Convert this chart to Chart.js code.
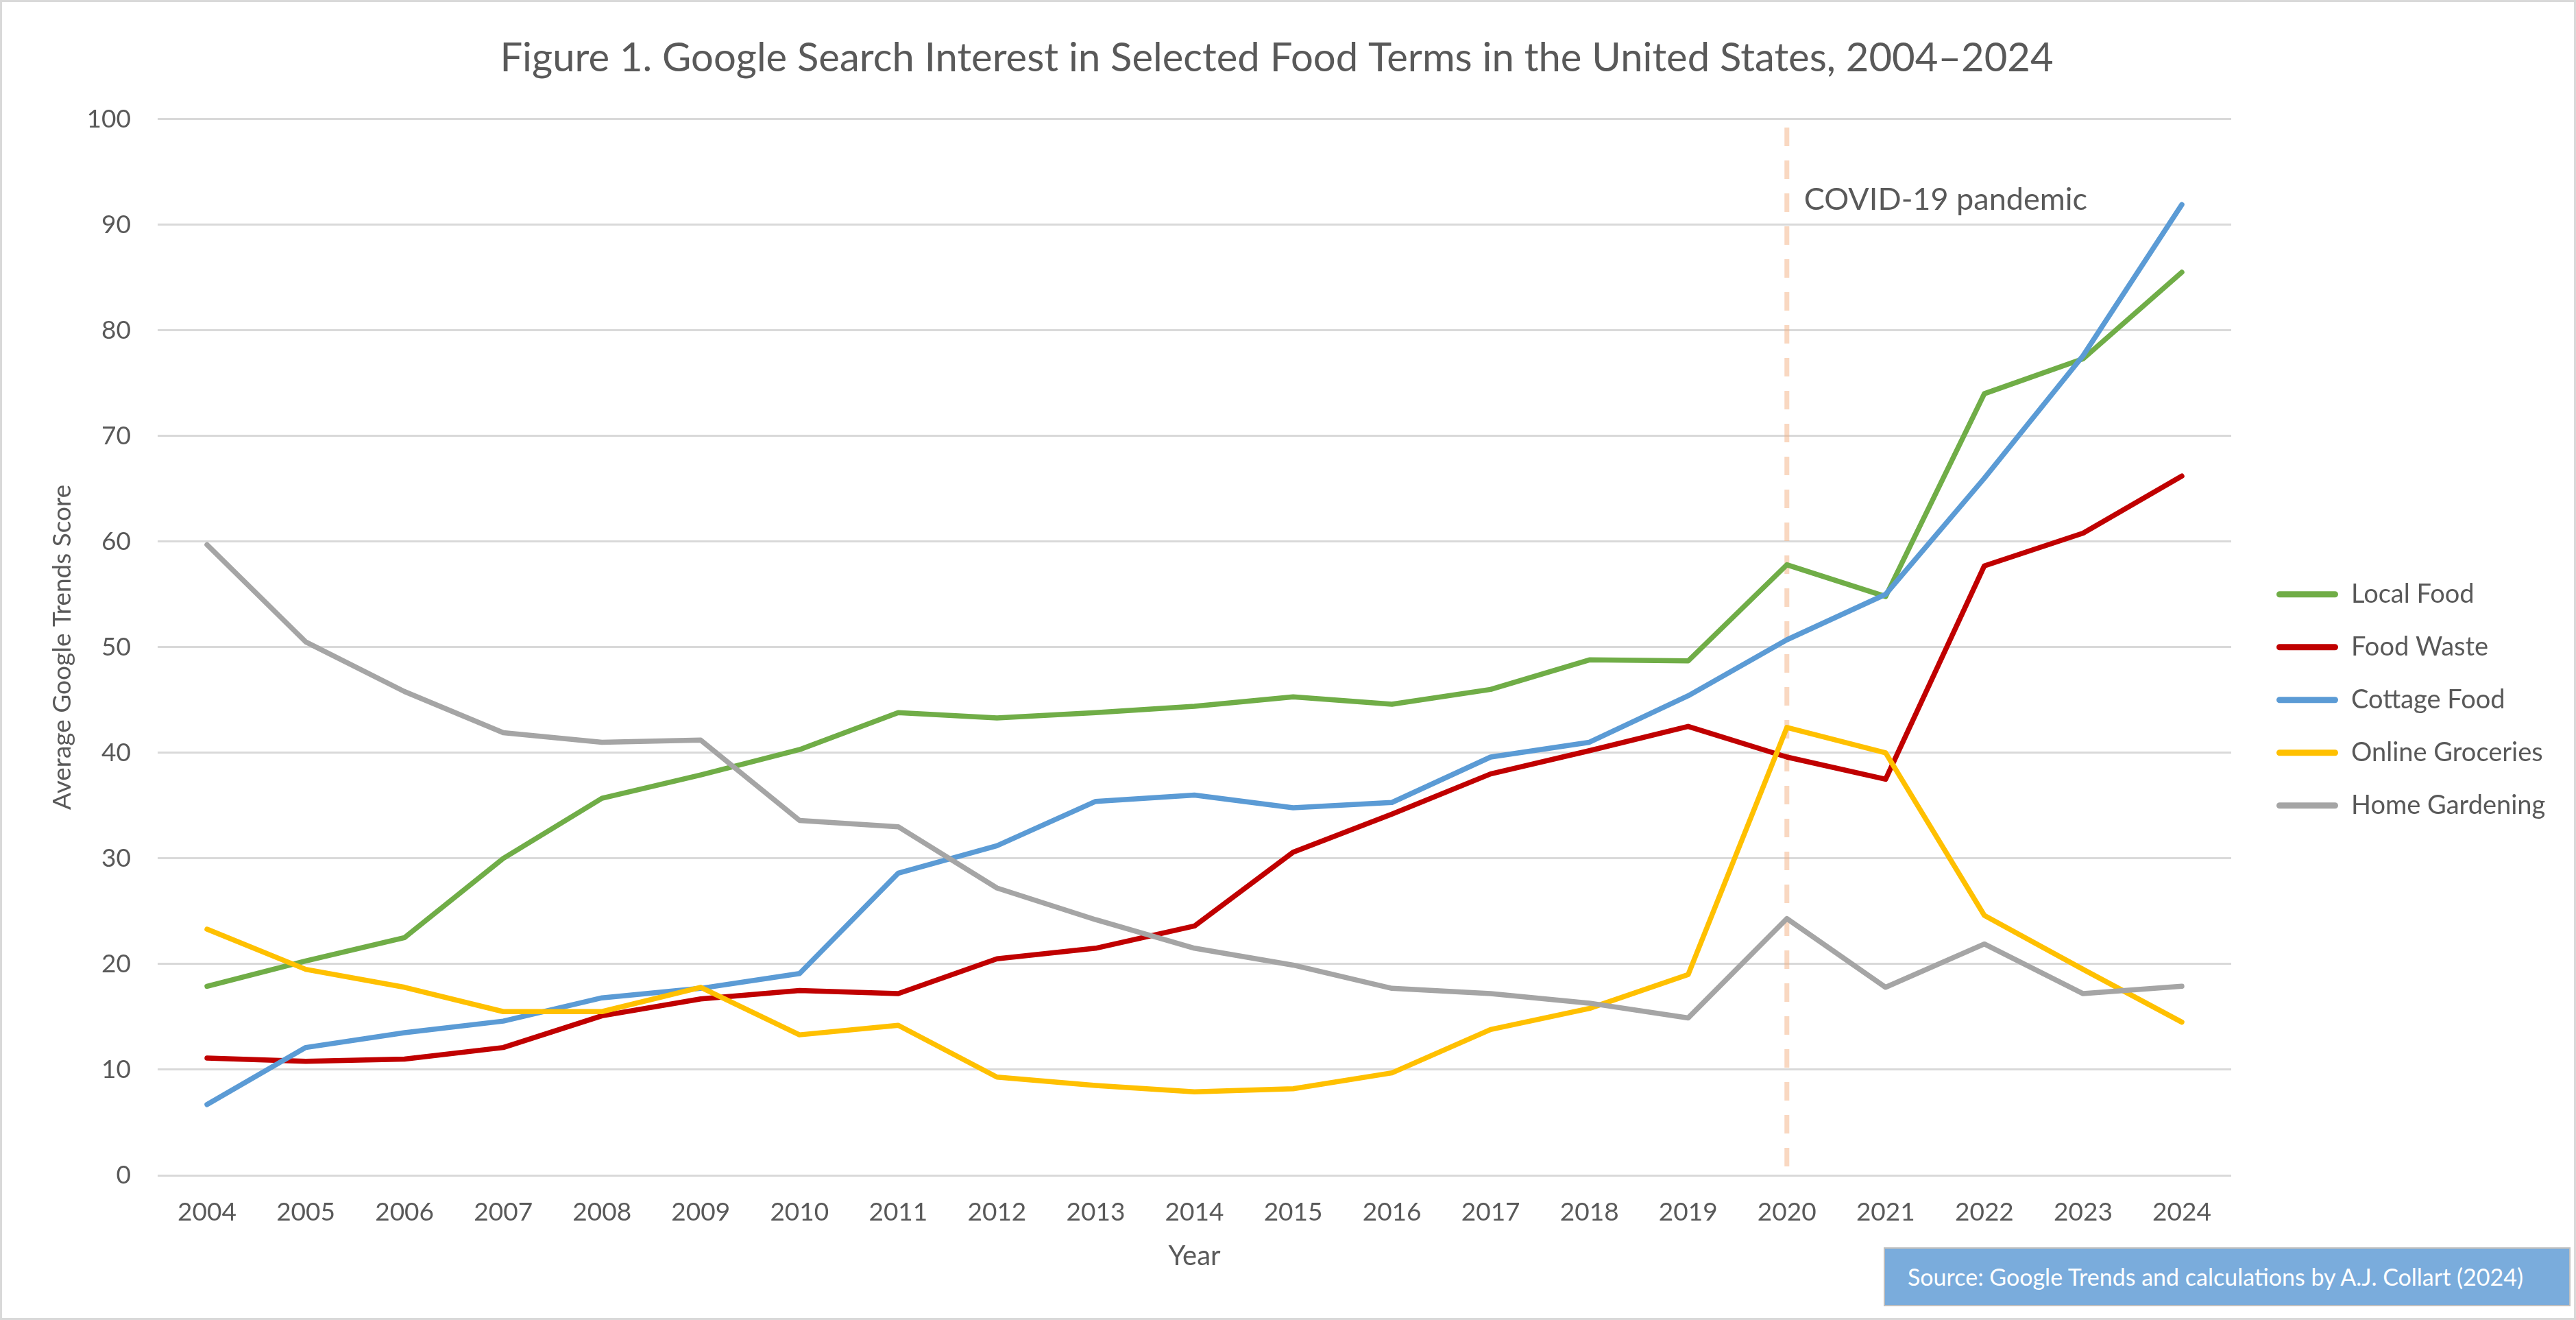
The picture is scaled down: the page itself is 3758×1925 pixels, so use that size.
<!DOCTYPE html>
<html lang="en">
<head>
    <meta charset="UTF-8">
    <title>Google Search Interest in Selected Food Terms</title>
    <script src="https://cdn.jsdelivr.net/npm/chart.js"></script>
    <style>
        body {
            margin: 0;
            background: #fff;
            font-family: Lato, sans-serif;
        }
        .frame {
            position: relative;
            width: 3758px;
            height: 1925px;
            box-sizing: border-box;
            border: 3px solid #d9d9d9;
        }
        .chart-wrapper {
            position: absolute;
            left: 0;
            top: 0;
            width: 3752px;
            height: 1919px;
        }
        .source {
            position: absolute;
            left: 2745px;
            top: 1816px;
            width: 1002px;
            height: 86px;
            box-sizing: border-box;
            background: #7aacdc;
            border: 2px solid #bfbfbf;
            color: #fff;
            font-size: 34px;
            line-height: 82px;
            padding-left: 33px;
            white-space: nowrap;
        }
    </style>
</head>
<body>
<div class="frame">
    <div class="chart-wrapper">
        <canvas id="foodChart"></canvas>
    </div>
    <div class="source">Source: Google Trends and calculations by A.J. Collart (2024)</div>
</div>

<script>
    const years = ['2004', '2005', '2006', '2007', '2008', '2009', '2010', '2011', '2012', '2013', '2014',
        '2015', '2016', '2017', '2018', '2019', '2020', '2021', '2022', '2023', '2024'];

    const localFood = [17.9, 20.3, 22.5, 30.0, 35.7, 37.9, 40.3, 43.8, 43.3, 43.8, 44.4,
        45.3, 44.6, 46.0, 48.8, 48.7, 57.8, 54.8, 74.0, 77.3, 85.5];
    const foodWaste = [11.1, 10.8, 11.0, 12.1, 15.1, 16.7, 17.5, 17.2, 20.5, 21.5, 23.6,
        30.6, 34.2, 38.0, 40.2, 42.5, 39.6, 37.5, 57.7, 60.8, 66.2];
    const cottageFood = [6.7, 12.1, 13.5, 14.6, 16.8, 17.7, 19.1, 28.6, 31.2, 35.4, 36.0,
        34.8, 35.3, 39.6, 41.0, 45.4, 50.7, 55.0, 66.0, 77.6, 91.9];
    const onlineGroceries = [23.3, 19.5, 17.8, 15.5, 15.5, 17.8, 13.3, 14.2, 9.3, 8.5, 7.9,
        8.2, 9.7, 13.8, 15.8, 19.0, 42.4, 40.0, 24.6, 19.5, 14.5];
    const homeGardening = [59.7, 50.5, 45.8, 41.9, 41.0, 41.2, 33.6, 33.0, 27.2, 24.2, 21.5,
        19.9, 17.7, 17.2, 16.3, 14.9, 24.3, 17.8, 21.9, 17.2, 17.9];

    const covidYear = '2020';
    const covidLabel = 'COVID-19 pandemic';

    const textColor = '#595959';

    function serie(label, data, color, order) {
        return {
            label: label,
            data: data,
            borderColor: color,
            backgroundColor: color,
            borderWidth: 7.5,
            borderCapStyle: 'round',
            borderJoinStyle: 'round',
            pointRadius: 0,
            tension: 0,
            fill: false,
            order: order
        };
    }

    // kesikli COVID çizgisi ve etiketi
    const covidMarker = {
        id: 'covidMarker',
        beforeDatasetsDraw(chart) {
            const {ctx, scales: {x, y}} = chart;
            const px = x.getPixelForValue(years.indexOf(covidYear));
            ctx.save();
            ctx.strokeStyle = 'rgba(244, 177, 131, 0.5)';
            ctx.lineWidth = 7;
            ctx.setLineDash([27, 21]);
            ctx.beginPath();
            ctx.moveTo(px, y.getPixelForValue(99.2));
            ctx.lineTo(px, y.getPixelForValue(0.8));
            ctx.stroke();
            ctx.setLineDash([]);
            ctx.fillStyle = textColor;
            ctx.font = '45px Lato';
            ctx.textAlign = 'left';
            ctx.textBaseline = 'middle';
            ctx.fillText(covidLabel, px + 25, y.getPixelForValue(92.35));
            ctx.restore();
        }
    };

    const config = {
        type: 'line',
        data: {
            labels: years,
            datasets: [
                serie('Local Food', localFood, '#70ad47', 5),
                serie('Food Waste', foodWaste, '#c00000', 4),
                serie('Cottage Food', cottageFood, '#5b9bd5', 3),
                serie('Online Groceries', onlineGroceries, '#ffc000', 2),
                serie('Home Gardening', homeGardening, '#a5a5a5', 1)
            ]
        },
        options: {
            responsive: true,
            maintainAspectRatio: false,
            devicePixelRatio: 1,
            animation: false,
            layout: {
                padding: {left: 0, right: 33, top: 0, bottom: 0}
            },
            plugins: {
                title: {
                    display: true,
                    text: 'Figure 1. Google Search Interest in Selected Food Terms in the United States, 2004–2024',
                    color: textColor,
                    font: {family: 'Lato', size: 58, weight: 'normal'},
                    padding: {top: 47, bottom: 54}
                },
                legend: {
                    position: 'right',
                    maxWidth: 440,
                    title: {
                        display: true,
                        text: '',
                        padding: {top: 0, bottom: 102}
                    },
                    labels: {
                        color: textColor,
                        font: {family: 'Lato', size: 38},
                        boxWidth: 90,
                        boxHeight: 9,
                        padding: 39,
                        useBorderRadius: true,
                        borderRadius: 4.5,
                        sort: (a, b) => a.datasetIndex - b.datasetIndex,
                        generateLabels: chart => Chart.defaults.plugins.legend.labels.generateLabels(chart)
                            .map(item => ({...item, lineWidth: 0, fillStyle: item.strokeStyle, borderRadius: 4.5}))
                    }
                },
                tooltip: {enabled: false}
            },
            scales: {
                x: {
                    offset: true,
                    grid: {display: false, drawTicks: false},
                    border: {display: false},
                    ticks: {
                        color: textColor,
                        font: {family: 'Lato', size: 37},
                        padding: 32,
                        maxRotation: 0,
                        autoSkip: false
                    },
                    title: {
                        display: true,
                        text: 'Year',
                        color: textColor,
                        font: {family: 'Lato', size: 40},
                        padding: {top: 0, bottom: 66}
                    },
                    afterFit: scale => { scale.height = 208; }
                },
                y: {
                    min: 0,
                    max: 100,
                    grid: {color: '#d9d9d9', lineWidth: 3, drawTicks: false},
                    border: {display: false},
                    ticks: {
                        stepSize: 10,
                        color: textColor,
                        font: {family: 'Lato', size: 37},
                        padding: 39
                    },
                    title: {
                        display: true,
                        text: 'Average Google Trends Score',
                        color: textColor,
                        font: {family: 'Lato', size: 37},
                        padding: {top: 66, bottom: 0}
                    },
                    afterFit: scale => { scale.width = 227; }
                },
                // boş sağ eksen: grafik ile lejant arasındaki boşluk
                gap: {
                    type: 'linear',
                    position: 'right',
                    display: true,
                    grid: {display: false, drawTicks: false},
                    border: {display: false},
                    ticks: {display: false},
                    afterFit: scale => { scale.width = 27; }
                }
            }
        },
        plugins: [covidMarker]
    };

    const ctx = document.getElementById('foodChart').getContext('2d');
    const foodChart = new Chart(ctx, config);
</script>
</body>
</html>
